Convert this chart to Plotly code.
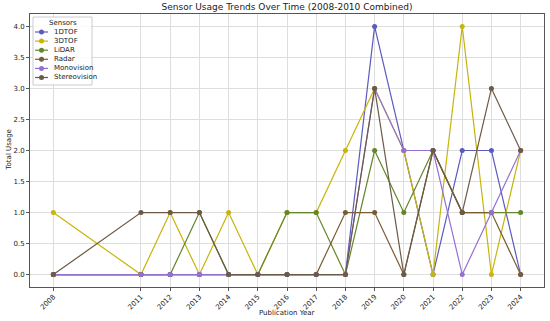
import plotly.graph_objects as go

years = [2008, 2011, 2012, 2013, 2014, 2015, 2016, 2017, 2018, 2019, 2020, 2021, 2022, 2023, 2024]
sensors = ["1DTOF", "3DTOF", "LiDAR", "Radar", "Monovision", "Stereovision"]
dtof1 = [0, 0, 0, 0, 0, 0, 0, 0, 0, 4, 2, 0, 2, 2, 0]
dtof3 = [1, 0, 1, 0, 1, 0, 1, 1, 2, 3, 2, 0, 4, 0, 2]
lidar = [0, 0, 0, 1, 0, 0, 1, 1, 0, 2, 1, 2, 1, 1, 1]
radar = [0, 0, 0, 0, 0, 0, 0, 0, 1, 1, 0, 2, 1, 1, 0]
mono = [0, 0, 0, 0, 0, 0, 0, 0, 0, 3, 2, 2, 0, 1, 2]
stereo = [0, 1, 1, 1, 0, 0, 0, 0, 0, 3, 0, 2, 1, 3, 2]
series = [dtof1, dtof3, lidar, radar, mono, stereo]
colors = ["#5b5bbd", "#c8b40a", "#64862a", "#7a5c34", "#9470d4", "#6b5a45"]

W, H = 550, 321
L, R, T, B = 30, 6, 14, 34
pw, ph = W - L - R, H - T - B

def px(x):
    return (x - L) / pw

def py(y):
    return (H - B - y) / ph

FONT = "DejaVu Sans"
fig = go.Figure()
for name, vals, c in zip(sensors, series, colors):
    fig.add_trace(go.Scatter(x=years, y=vals, name=name, mode="lines+markers", showlegend=False,
                             line=dict(color=c, width=1.2), marker=dict(color=c, size=5)))

axis_common = dict(showline=True, linecolor="#555", linewidth=1, mirror=True, automargin=False,
                   showgrid=True, gridcolor="#dedede", gridwidth=1, zeroline=False,
                   ticks="outside", ticklen=3, tickcolor="#555",
                   tickfont=dict(size=7, color="#222", family=FONT))
fig.update_xaxes(range=[2007.2, 2024.8], tickvals=years, ticktext=[str(y) for y in years],
                 tickangle=-45, ticklabelstandoff=-1, **axis_common)
fig.update_yaxes(range=[-0.2, 4.2], tickvals=[0, 0.5, 1, 1.5, 2, 2.5, 3, 3.5, 4],
                 ticktext=["0.0", "0.5", "1.0", "1.5", "2.0", "2.5", "3.0", "3.5", "4.0"],
                 **axis_common)

shapes = []
annotations = [
    dict(text="Publication Year", xref="paper", yref="paper", x=0.5, y=py(313), xanchor="center",
         yanchor="middle", showarrow=False, font=dict(size=7, family=FONT, color="#222")),
    dict(text="Total Usage", xref="paper", yref="paper", x=px(8), y=0.5, xanchor="center",
         yanchor="middle", textangle=-90, showarrow=False, font=dict(size=7, family=FONT, color="#222")),
]
# manual compact legend
shapes.append(dict(type="rect", xref="paper", yref="paper", x0=px(33), x1=px(92), y0=py(85), y1=py(17),
                   line=dict(color="#cccccc", width=1), fillcolor="rgba(255,255,255,0.85)", layer="above"))
annotations.append(dict(text="Sensors", xref="paper", yref="paper", x=px(62.5), y=py(22.5), xanchor="center",
                        yanchor="middle", showarrow=False, font=dict(size=7, family=FONT, color="#222")))
for i, (name, c) in enumerate(zip(sensors, colors)):
    yy = 32 + i * 9.1
    shapes.append(dict(type="line", xref="paper", yref="paper", x0=px(35), x1=px(48), y0=py(yy), y1=py(yy),
                       line=dict(color=c, width=1.2), layer="above"))
    shapes.append(dict(type="circle", xref="paper", yref="paper", xsizemode="pixel", ysizemode="pixel",
                       xanchor=px(41.5), yanchor=py(yy), x0=-2.5, x1=2.5, y0=-2.5, y1=2.5,
                       fillcolor=c, line=dict(color=c, width=0), layer="above"))
    annotations.append(dict(text=name, xref="paper", yref="paper", x=px(52), y=py(yy), xanchor="left",
                            yanchor="middle", showarrow=False, font=dict(size=7, family=FONT, color="#222")))

fig.update_layout(
    width=W, height=H,
    margin=dict(l=L, r=R, t=T, b=B),
    paper_bgcolor="white", plot_bgcolor="white",
    title=dict(text="Sensor Usage Trends Over Time (2008-2010 Combined)", xref="paper", x=0.5, xanchor="center",
               y=1 - 7 / H, yanchor="middle", font=dict(size=9, family=FONT, color="#222")),
    shapes=shapes, annotations=annotations,
    showlegend=False,
)
fig.write_html("out.html", config={"displayModeBar": False},
               post_script="document.body.style.margin='0';document.body.style.overflow='hidden';")
